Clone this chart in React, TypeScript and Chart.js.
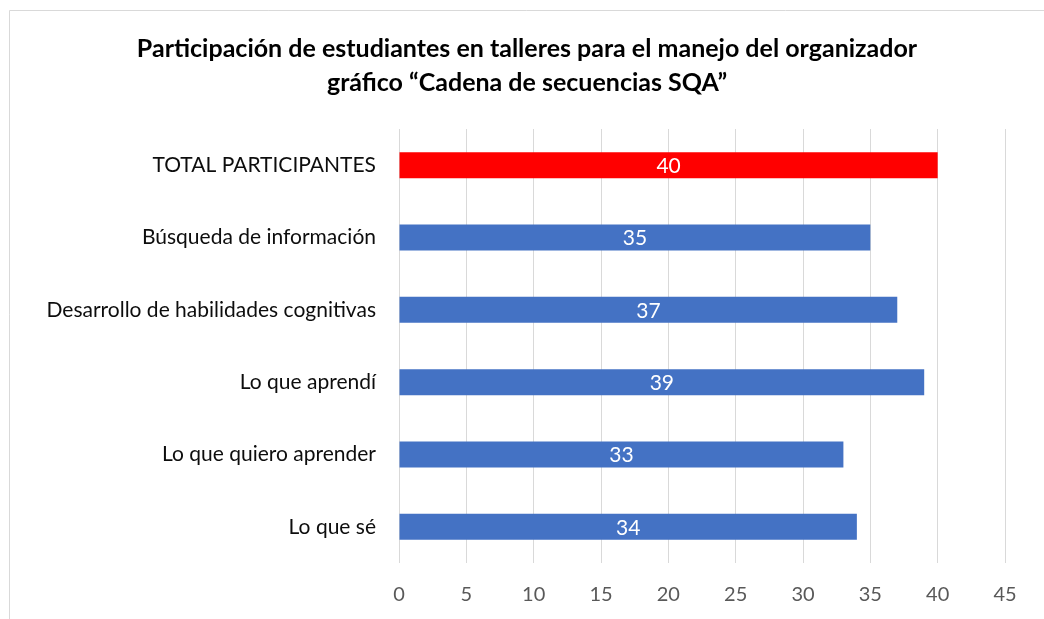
import React, { useEffect, useRef } from "react";
import { Chart, registerables } from "chart.js";

Chart.register(...registerables);

const titleLines = [
  "Participación de estudiantes en talleres para el manejo del organizador",
  "gráfico “Cadena de secuencias SQA”",
];
const categories = [
  "TOTAL PARTICIPANTES",
  "Búsqueda de información",
  "Desarrollo de habilidades cognitivas",
  "Lo que aprendí",
  "Lo que quiero aprender",
  "Lo que sé",
];
const values = [40, 35, 37, 39, 33, 34];
const barColors = ["#ff0000", "#4472c4", "#4472c4", "#4472c4", "#4472c4", "#4472c4"];
const xMin = 0;
const xMax = 45;
const xStep = 5;

const FONT = "Lato, 'Noto Sans', sans-serif";

const framePlugin = {
  id: "frame",
  beforeDraw(chart: any) {
    const ctx = chart.ctx;
    ctx.save();
    ctx.fillStyle = "#ffffff";
    ctx.fillRect(0, 0, chart.width, chart.height);
    ctx.strokeStyle = "#d9d9d9";
    ctx.lineWidth = 1;
    ctx.beginPath();
    ctx.moveTo(9.5, chart.height);
    ctx.lineTo(9.5, 10.5);
    ctx.lineTo(chart.width, 10.5);
    ctx.stroke();
    ctx.restore();
  },
};

const titlePlugin = {
  id: "customTitle",
  afterDraw(chart: any) {
    const ctx = chart.ctx;
    ctx.save();
    ctx.font = `bold 25px ${FONT}`;
    ctx.fillStyle = "#000000";
    ctx.textAlign = "center";
    ctx.textBaseline = "middle";
    titleLines.forEach((line, i) => {
      ctx.fillText(line, 527, 49 + i * 34);
    });
    ctx.restore();
  },
};

const valueLabelPlugin = {
  id: "valueLabels",
  afterDatasetsDraw(chart: any) {
    const ctx = chart.ctx;
    const meta = chart.getDatasetMeta(0);
    const ds = chart.data.datasets[0];
    ctx.save();
    ctx.font = `21px ${FONT}`;
    ctx.fillStyle = "#ffffff";
    ctx.textAlign = "center";
    ctx.textBaseline = "middle";
    meta.data.forEach((bar: any, i: number) => {
      const x = (bar.x + bar.base) / 2;
      ctx.fillText(String(ds.data[i]), x, bar.y + 1);
    });
    ctx.restore();
  },
};

export default function App() {
  const ref = useRef<HTMLCanvasElement | null>(null);
  useEffect(() => {
    if (!ref.current) return;
    const chart = new Chart(ref.current, {
      type: "bar",
      data: {
        labels: categories,
        datasets: [
          {
            data: values,
            backgroundColor: barColors,
            borderWidth: 0,
            categoryPercentage: 1,
            barPercentage: 0.36,
          },
        ],
      },
      options: {
        indexAxis: "y",
        animation: false,
        responsive: false,
        maintainAspectRatio: false,
        layout: { padding: { left: 0, right: 39, top: 129, bottom: 0 } },
        plugins: {
          legend: { display: false },
          tooltip: { enabled: false },
          title: { display: false },
        },
        scales: {
          x: {
            min: xMin,
            max: xMax,
            ticks: {
              stepSize: xStep,
              color: "#595959",
              font: { family: FONT, size: 20 },
              padding: 20,
            },
            grid: { color: "#d9d9d9", lineWidth: 1, drawTicks: false },
            border: { display: false },
            afterFit(scale: any) {
              scale.height = 56;
            },
          },
          y: {
            ticks: {
              color: "#0d0d0d",
              font: { family: FONT, size: 21 },
              padding: 23,
            },
            grid: { display: false, drawTicks: false },
            border: { display: false },
            afterFit(scale: any) {
              scale.width = 399;
            },
          },
        },
      },
      plugins: [framePlugin, valueLabelPlugin, titlePlugin],
    });
    return () => chart.destroy();
  }, []);
  return (
    <div style={{ position: "fixed", left: 0, top: 0, width: 1044, height: 619, background: "#fff" }}>
      <canvas ref={ref} width={1044} height={619} style={{ width: 1044, height: 619 }} />
    </div>
  );
}
